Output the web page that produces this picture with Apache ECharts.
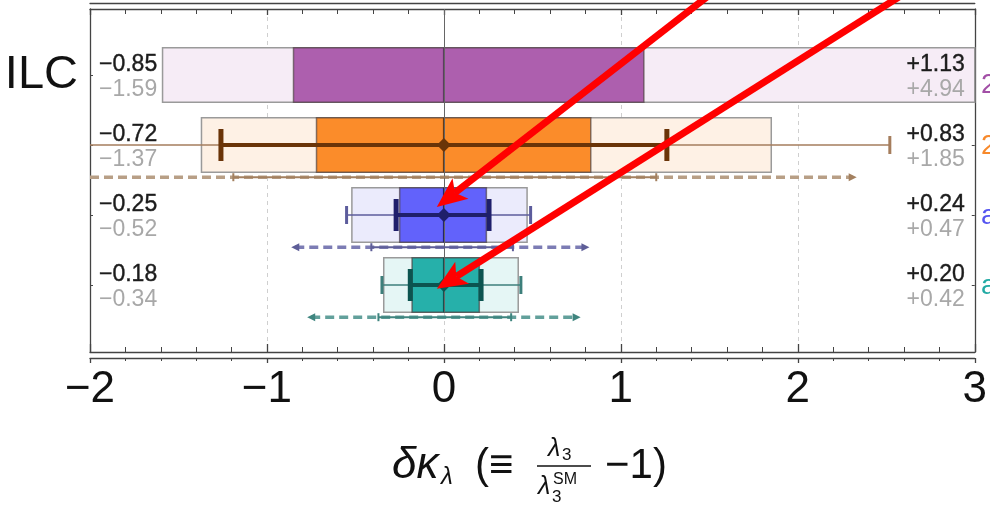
<!DOCTYPE html>
<html>
<head>
<meta charset="utf-8">
<script src="https://cdn.jsdelivr.net/npm/echarts@6/dist/echarts.min.js"></script>
<style>
  html, body { margin: 0; padding: 0; background: #fff; }
  #chart { width: 990px; height: 509px; }
</style>
</head>
<body>
<div id="chart"></div>
<script>
// rows top -> bottom : ILC (purple), orange, blue, teal
const rows = [0, 1, 2, 3];
const rowNames = ['ILC', '', '', ''];
const innerLow  = [-0.85, -0.72, -0.25, -0.18];
const innerHigh = [ 1.13,  0.83,  0.24,  0.20];
const outerLow  = [-1.59, -1.37, -0.52, -0.34];
const outerHigh = [ 4.94,  1.85,  0.47,  0.42];
const median    = [0, 0, 0, 0];
// thin whiskers
const whiskerLow  = [null, -2.30, -0.55, -0.35];
const whiskerHigh = [null,  2.52,  0.49,  0.435];
// thick error bars
const errLow  = [null, -1.26, -0.27, -0.19];
const errHigh = [null,  1.26,  0.255, 0.21];
// dashed ranges under each row, with the solid part inside
const dashLow   = [null, -2.30, -0.84, -0.75];
const dashHigh  = [null,  2.31,  0.80,  0.75];
const solidLow  = [null, -1.19, -0.41, -0.37];
const solidHigh = [null,  1.20,  0.39,  0.38];
const xTicks = [-2, -1, 0, 1, 2, 3];
// red annotation arrows: [startX, startY, tipX, tipY] in data coords
const arrows = [
  [1.55, -1.24, -0.04, 1.885],
  [2.65, -1.24, -0.04, 3.055]
];

const darkFill  = ['#ad5fae', '#fb8c2a', '#6262fb', '#26b0aa'];
const lightFill = ['#f6ecf6', '#fef1e5', '#ebebfc', '#e5f6f5'];
const medCol    = ['#5e3a60', '#6a3a12', '#22226e', '#0d5552'];
const barCol    = [null, '#6a3408', '#1f1f6b', '#0c5450'];
const whiskCol  = [null, '#a57d5c', '#5c5c9c', '#3d7f7b'];
const dashCol   = [null, '#b89f86', '#7c7cb4', '#62a09b'];
const solidCol  = [null, '#a3805f', '#5e5e98', '#3f857f'];

const yMin = -0.943, yMax = 3.957;
const boxHalf = 0.39;
const dashOff = 0.46;
const FONT = '"Liberation Sans", Arial, sans-serif';

function fmt(v) { return (v < 0 ? '\u2212' : '+') + Math.abs(v).toFixed(2); }
function csRect(cs) { return { x: cs.x, y: cs.y, width: cs.width, height: cs.height }; }
function cx(px, cs) { return Math.max(cs.x, Math.min(cs.x + cs.width, px)); }
function inX(px, cs) { return px >= cs.x - 0.5 && px <= cs.x + cs.width + 0.5; }

function boxSeries(lowArr, highArr, fills, stroke, lw, z) {
  return {
    type: 'custom', z: z,
    data: rows.map(i => [i, lowArr[i], highArr[i]]),
    encode: { x: [1, 2], y: 0 },
    renderItem: function (params, api) {
      const i = api.value(0);
      const a = api.coord([api.value(1), i]);
      const b = api.coord([api.value(2), i]);
      const h = Math.abs(api.size([0, boxHalf * 2])[1]);
      const r = echarts.graphic.clipRectByRect(
        { x: a[0], y: a[1] - h / 2, width: b[0] - a[0], height: h }, csRect(params.coordSys));
      return { type: 'rect', shape: r, style: { fill: fills[i], stroke: stroke, lineWidth: lw } };
    }
  };
}

function rangeSeries(lowArr, highArr, z, draw) {
  return {
    type: 'custom', z: z,
    data: rows.filter(i => lowArr[i] !== null).map(i => [i, lowArr[i], highArr[i]]),
    encode: { x: [1, 2], y: 0 },
    renderItem: function (params, api) {
      const i = api.value(0);
      const a = api.coord([api.value(1), i]);
      const b = api.coord([api.value(2), i]);
      const unit = Math.abs(api.size([0, 1])[1]);
      return draw(i, a, b, unit, params.coordSys);
    }
  };
}

const chart = echarts.init(document.getElementById('chart'));

const series = [
  boxSeries(outerLow, outerHigh, lightFill, '#9a9a9a', 1.5, 1),
  boxSeries(innerLow, innerHigh, darkFill, 'rgba(70,60,60,0.65)', 1.5, 2),
  // median lines
  {
    type: 'custom', z: 3,
    data: rows.map(i => [i, median[i]]),
    encode: { x: 1, y: 0 },
    renderItem: function (params, api) {
      const i = api.value(0);
      const c = api.coord([api.value(1), i]);
      const h = Math.abs(api.size([0, boxHalf * 2])[1]);
      return { type: 'line', shape: { x1: c[0], y1: c[1] - h / 2, x2: c[0], y2: c[1] + h / 2 },
               style: { stroke: medCol[i], lineWidth: 2 } };
    },
    markLine: {
      silent: true, symbol: ['none', 'none'], label: { show: false },
      lineStyle: { color: '#666', width: 1, type: 'solid' },
      data: [[{ coord: [0, yMin] }, { coord: [0, 3 + boxHalf] }]]
    }
  },
  // thin whiskers
  rangeSeries(whiskerLow, whiskerHigh, 4, function (i, a, b, unit, cs) {
    const y = a[1], capH = 9, ch = [];
    ch.push({ type: 'line', shape: { x1: cx(a[0], cs), y1: y, x2: cx(b[0], cs), y2: y },
              style: { stroke: whiskCol[i], lineWidth: 1.5 } });
    [a[0], b[0]].forEach(function (x) {
      if (inX(x, cs)) ch.push({ type: 'line', shape: { x1: x, y1: y - capH, x2: x, y2: y + capH },
                                 style: { stroke: whiskCol[i], lineWidth: 3 } });
    });
    return { type: 'group', children: ch };
  }),
  // thick error bars
  rangeSeries(errLow, errHigh, 5, function (i, a, b, unit, cs) {
    const y = a[1], capH = 16;
    return { type: 'group', children: [
      { type: 'line', shape: { x1: a[0], y1: y, x2: b[0], y2: y }, style: { stroke: barCol[i], lineWidth: 4 } },
      { type: 'line', shape: { x1: a[0], y1: y - capH, x2: a[0], y2: y + capH }, style: { stroke: barCol[i], lineWidth: 5 } },
      { type: 'line', shape: { x1: b[0], y1: y - capH, x2: b[0], y2: y + capH }, style: { stroke: barCol[i], lineWidth: 5 } }
    ] };
  }),
  // dashed ranges with arrow ends
  rangeSeries(dashLow, dashHigh, 4, function (i, a, b, unit, cs) {
    const y = a[1] + dashOff * unit, ch = [];
    const x1 = cx(a[0], cs), x2 = cx(b[0], cs);
    ch.push({ type: 'line', shape: { x1: x1, y1: y, x2: x2, y2: y },
              style: { stroke: dashCol[i], lineWidth: 3.5, lineDash: [9, 5] } });
    if (inX(a[0], cs)) ch.push({ type: 'polygon', shape: { points: [[a[0] - 4, y], [a[0] + 4, y - 4], [a[0] + 4, y + 4]] },
                                 style: { fill: solidCol[i] } });
    if (inX(b[0], cs)) ch.push({ type: 'polygon', shape: { points: [[b[0] + 4, y], [b[0] - 4, y - 4], [b[0] - 4, y + 4]] },
                                 style: { fill: solidCol[i] } });
    return { type: 'group', children: ch };
  }),
  rangeSeries(solidLow, solidHigh, 5, function (i, a, b, unit, cs) {
    const y = a[1] + dashOff * unit;
    return { type: 'group', children: [
      { type: 'line', shape: { x1: a[0], y1: y, x2: b[0], y2: y }, style: { stroke: solidCol[i], lineWidth: 2 } },
      { type: 'line', shape: { x1: a[0], y1: y - 4, x2: a[0], y2: y + 4 }, style: { stroke: solidCol[i], lineWidth: 2 } },
      { type: 'line', shape: { x1: b[0], y1: y - 4, x2: b[0], y2: y + 4 }, style: { stroke: solidCol[i], lineWidth: 2 } }
    ] };
  }),
  // diamonds at the centre
  {
    type: 'custom', z: 6,
    data: rows.filter(i => barCol[i] !== null).map(i => [i, median[i]]),
    encode: { x: 1, y: 0 },
    renderItem: function (params, api) {
      const i = api.value(0);
      const c = api.coord([api.value(1), i]);
      const s = 7;
      return { type: 'polygon', shape: { points: [[c[0], c[1] - s], [c[0] + s, c[1]], [c[0], c[1] + s], [c[0] - s, c[1]]] },
               style: { fill: barCol[i] } };
    }
  },
  // value labels
  {
    type: 'custom', z: 8,
    data: rows.map(i => [i, innerLow[i], outerLow[i], innerHigh[i], outerHigh[i]]),
    encode: { x: 1, y: 0 },
    renderItem: function (params, api) {
      const i = api.value(0);
      const cs = params.coordSys;
      const y = api.coord([0, i])[1];
      const f = '23px ' + FONT;
      const L = cs.x + 9, R = cs.x + cs.width - 10;
      const blk = { fill: '#1c1c1c', stroke: '#1c1c1c', lineWidth: 0.4, font: f, verticalAlign: 'middle' };
      const gry = { fill: '#a8a8a8', font: f, verticalAlign: 'middle' };
      return { type: 'group', children: [
        { type: 'text', style: Object.assign({ text: fmt(api.value(1)), x: L, y: y - 10, align: 'left' }, blk) },
        { type: 'text', style: Object.assign({ text: fmt(api.value(2)), x: L, y: y + 15, align: 'left' }, gry) },
        { type: 'text', style: Object.assign({ text: fmt(api.value(3)), x: R, y: y - 10, align: 'right' }, blk) },
        { type: 'text', style: Object.assign({ text: fmt(api.value(4)), x: R, y: y + 15, align: 'right' }, gry) }
      ] };
    }
  },
  // red annotation arrows
  {
    type: 'custom', z: 10, clip: false,
    data: arrows,
    encode: { x: [0, 2], y: [1, 3] },
    renderItem: function (params, api) {
      const s = api.coord([api.value(0), api.value(1)]);
      const t = api.coord([api.value(2), api.value(3)]);
      const dx = t[0] - s[0], dy = t[1] - s[1];
      const len = Math.sqrt(dx * dx + dy * dy);
      const ux = dx / len, uy = dy / len, nx = -uy, ny = ux;
      const L = 30, W = 13, notch = 7;
      const bx = t[0] - L * ux, by = t[1] - L * uy;
      const mx = t[0] - (L - notch) * ux, my = t[1] - (L - notch) * uy;
      return { type: 'group', children: [
        { type: 'line', shape: { x1: s[0], y1: s[1], x2: mx, y2: my }, style: { stroke: '#ff0000', lineWidth: 7 } },
        { type: 'polygon', shape: { points: [[t[0], t[1]], [bx + W * nx, by + W * ny], [mx, my], [bx - W * nx, by - W * ny]] },
          style: { fill: '#ff0000' } }
      ] };
    }
  }
];

const axisCol = '#444';
function xAx(extra) {
  return Object.assign({
    type: 'value', min: -2, max: 3, interval: 1, gridIndex: 0,
    axisLine: { show: true, onZero: false, lineStyle: { color: axisCol, width: 1.3 } },
    axisTick: { show: false },
    minorTick: { show: false },
    axisLabel: { show: false },
    splitLine: { show: false }
  }, extra);
}

const option = {
  animation: false,
  backgroundColor: '#fff',
  grid: { left: 90, right: 15, top: 9, bottom: 157 },
  xAxis: [
    xAx({
      position: 'bottom',
      axisTick: { show: true, inside: true, length: 8, lineStyle: { color: axisCol, width: 1.3 } },
      minorTick: { show: true, splitNumber: 5, length: 5, lineStyle: { color: axisCol, width: 1 } },
      splitLine: { show: true, lineStyle: { color: '#cfcfcf', type: [4, 4], width: 1 } },
      axisLabel: {
        show: true, margin: 16, color: '#111', fontSize: 44, fontFamily: FONT,
        formatter: v => (v < 0 ? '\u2212' + Math.abs(v) : String(v))
      }
    }),
    xAx({
      position: 'bottom', offset: 6,
      axisTick: { show: true, inside: false, length: 5, lineStyle: { color: axisCol, width: 1.3 } },
      minorTick: { show: true, splitNumber: 5, length: 3, lineStyle: { color: axisCol, width: 1 } }
    }),
    xAx({
      position: 'top',
      axisTick: { show: true, inside: true, length: 6, lineStyle: { color: axisCol, width: 1.3 } },
      minorTick: { show: true, splitNumber: 5, length: 5, lineStyle: { color: axisCol, width: 1 } }
    }),
    xAx({ position: 'top', offset: 6 })
  ],
  yAxis: [
    {
      type: 'value', position: 'left', inverse: true, min: yMin, max: yMax,
      axisLine: { show: true, onZero: false, lineStyle: { color: axisCol, width: 1.3 } },
      axisTick: { show: true, inside: true, length: 3, customValues: rows, lineStyle: { color: axisCol } },
      axisLabel: {
        show: true, margin: 12, customValues: [0], color: '#111', fontSize: 47, fontFamily: FONT,
        formatter: v => rowNames[Math.round(v)] || ''
      },
      splitLine: { show: false }
    },
    {
      type: 'value', position: 'right', inverse: true, min: yMin, max: yMax,
      axisLine: { show: true, onZero: false, lineStyle: { color: axisCol, width: 1.3 } },
      axisTick: { show: true, inside: true, length: 3, customValues: rows, lineStyle: { color: axisCol } },
      axisLabel: { show: false },
      splitLine: { show: false }
    }
  ],
  graphic: [
    // axis title: δκλ (≡ λ3 / λ3^SM − 1)
    { type: 'text', style: { text: '\u03b4\u03ba', x: 392, y: 466, font: 'italic 44px ' + FONT, fill: '#111', verticalAlign: 'middle' } },
    { type: 'text', style: { text: '\u03bb', x: 441, y: 477, font: 'italic 24px ' + FONT, fill: '#111', verticalAlign: 'middle' } },
    { type: 'text', style: { text: '(\u2261', x: 475, y: 466, font: '42px ' + FONT, fill: '#111', verticalAlign: 'middle' } },
    { type: 'text', style: { text: '\u03bb', x: 548, y: 449, font: 'italic 25px ' + FONT, fill: '#111', verticalAlign: 'middle' } },
    { type: 'text', style: { text: '3', x: 562, y: 455, font: '17px ' + FONT, fill: '#111', verticalAlign: 'middle' } },
    { type: 'line', shape: { x1: 537, y1: 466, x2: 591, y2: 466 }, style: { stroke: '#111', lineWidth: 1.5 } },
    { type: 'text', style: { text: '\u03bb', x: 538, y: 487, font: 'italic 25px ' + FONT, fill: '#111', verticalAlign: 'middle' } },
    { type: 'text', style: { text: '3', x: 552, y: 497, font: '17px ' + FONT, fill: '#111', verticalAlign: 'middle' } },
    { type: 'text', style: { text: 'SM', x: 553, y: 480, font: '16px ' + FONT, fill: '#111', verticalAlign: 'middle' } },
    { type: 'text', style: { text: '\u22121)', x: 605, y: 466, font: '42px ' + FONT, fill: '#111', verticalAlign: 'middle' } },
    // cut-off labels beyond the right frame
    { type: 'text', style: { text: '2', x: 981, y: 85, font: '28px ' + FONT, fill: '#a24fa6', verticalAlign: 'middle' } },
    { type: 'text', style: { text: '2', x: 981, y: 146, font: '28px ' + FONT, fill: '#f7892b', verticalAlign: 'middle' } },
    { type: 'text', style: { text: 'a', x: 981, y: 216, font: '28px ' + FONT, fill: '#5555f0', verticalAlign: 'middle' } },
    { type: 'text', style: { text: 'a', x: 981, y: 286, font: '28px ' + FONT, fill: '#22aaa4', verticalAlign: 'middle' } }
  ],
  series: series
};

chart.setOption(option);
</script>
</body>
</html>
